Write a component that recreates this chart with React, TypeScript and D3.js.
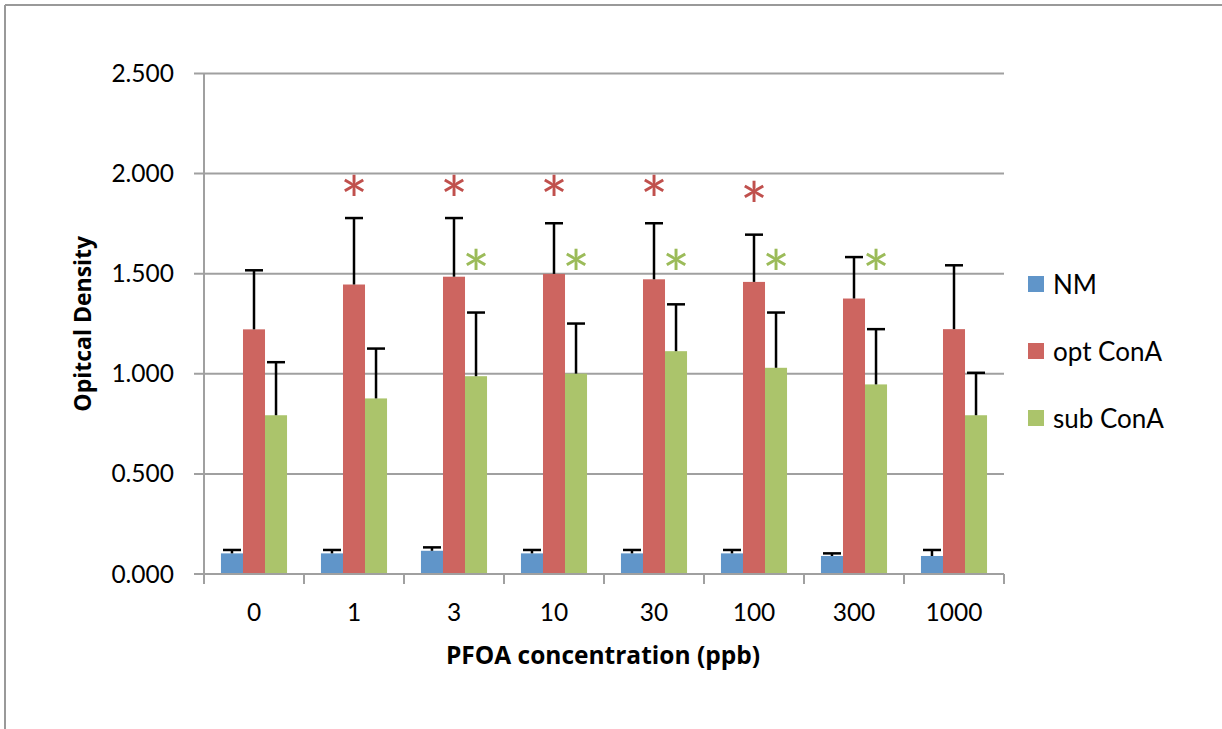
import React from 'react';
import * as d3 from 'd3';

const categories = ['0', '1', '3', '10', '30', '100', '300', '1000'];
const seriesNames = ['NM', 'opt ConA', 'sub ConA'];
const seriesColors = ['#6095C9', '#CD6560', '#ABC46B'];

const nmValues = [0.103, 0.103, 0.116, 0.103, 0.103, 0.103, 0.09, 0.09];
const nmErrors = [0.017, 0.017, 0.017, 0.017, 0.017, 0.017, 0.013, 0.03];
const optValues = [1.222, 1.446, 1.485, 1.499, 1.472, 1.459, 1.376, 1.223];
const optErrors = [0.295, 0.332, 0.293, 0.253, 0.28, 0.236, 0.207, 0.319];
const subValues = [0.793, 0.877, 0.988, 1.001, 1.113, 1.03, 0.947, 0.793];
const subErrors = [0.265, 0.249, 0.318, 0.25, 0.234, 0.276, 0.276, 0.212];

const yTicks = [0, 0.5, 1, 1.5, 2, 2.5];

// significance marks
const optStarCats = ['1', '3', '10', '30', '100'];
const optStarLevels = [1.95, 1.95, 1.95, 1.95, 1.92];
const subStarCats = ['3', '10', '30', '100', '300'];
const subStarLevels = [1.58, 1.58, 1.58, 1.58, 1.58];

const W = 1222;
const H = 729;
const font = 'Lato, "Open Sans", sans-serif';
const titleFont = '"Open Sans", Lato, sans-serif';
const gridColor = '#A0A0A0';

const App = () => {
  const x = d3.scaleBand().domain(categories).range([204, 1004]);
  const xs = d3.scaleBand().domain(seriesNames).range([0, x.bandwidth()]).paddingOuter(0.77);
  const y = d3.scaleLinear().domain([0, 2.5]).range([574, 73.5]);

  const series = [
    { name: seriesNames[0], values: nmValues, errors: nmErrors, color: seriesColors[0] },
    { name: seriesNames[1], values: optValues, errors: optErrors, color: seriesColors[1] },
    { name: seriesNames[2], values: subValues, errors: subErrors, color: seriesColors[2] },
  ];

  const bw = xs.bandwidth();
  const barCenter = (cat, name) => x(cat) + xs(name) + bw / 2;

  return (
    <svg width={W} height={H} style={{ position: 'absolute', left: 0, top: 0, background: '#fff' }}>
      {/* outer frame */}
      <line x1={5} x2={W} y1={5} y2={5} stroke="#999" strokeWidth={2} />
      <line x1={5} x2={5} y1={5} y2={H} stroke="#999" strokeWidth={2} />

      {/* gridlines + y ticks */}
      {yTicks.map(t => (
        <g key={t}>
          <line x1={194} x2={1004} y1={y(t)} y2={y(t)} stroke={gridColor} strokeWidth={2} />
          <text x={174} y={y(t)} dy="0.35em" textAnchor="end" fontFamily={font} fontSize={24.5} fill="#000">
            {d3.format('.3f')(t)}
          </text>
        </g>
      ))}

      {/* y axis */}
      <line x1={204} x2={204} y1={y(2.5)} y2={y(0)} stroke={gridColor} strokeWidth={2} />

      {/* bars */}
      {series.map(s =>
        categories.map((c, i) => (
          <rect
            key={s.name + c}
            x={x(c) + xs(s.name)}
            y={y(s.values[i])}
            width={bw}
            height={y(0) - y(s.values[i])}
            fill={s.color}
          />
        ))
      )}

      {/* error bars (plus only) */}
      {series.map(s =>
        categories.map((c, i) => {
          const cx = barCenter(c, s.name);
          const top = y(s.values[i] + s.errors[i]);
          return (
            <g key={'e' + s.name + c} stroke="#000" strokeWidth={2.5}>
              <line x1={cx} x2={cx} y1={y(s.values[i])} y2={top} />
              <line x1={cx - 9} x2={cx + 9} y1={top} y2={top} />
            </g>
          );
        })
      )}

      {/* x axis */}
      <line x1={194} x2={1004} y1={y(0)} y2={y(0)} stroke={gridColor} strokeWidth={2} />
      {categories.concat(['end']).map((c, i) => {
        const xx = 204 + i * x.step();
        return <line key={'t' + c} x1={xx} x2={xx} y1={y(0)} y2={y(0) + 10} stroke={gridColor} strokeWidth={2} />;
      })}
      {categories.map(c => (
        <text key={'l' + c} x={x(c) + x.bandwidth() / 2} y={621} textAnchor="middle" fontFamily={font} fontSize={24.5} fill="#000">
          {c}
        </text>
      ))}

      {/* asterisks */}
      {optStarCats.map((c, i) => (
        <text key={'so' + c} x={barCenter(c, seriesNames[1])} y={y(optStarLevels[i])} dy="0.62em" textAnchor="middle"
          fontFamily={font} fontSize={66} fill="#C0504D">*</text>
      ))}
      {subStarCats.map((c, i) => (
        <text key={'ss' + c} x={barCenter(c, seriesNames[2])} y={y(subStarLevels[i])} dy="0.62em" textAnchor="middle"
          fontFamily={font} fontSize={66} fill="#9BBB59">*</text>
      ))}

      {/* axis titles */}
      <text x={603} y={664} textAnchor="middle" fontFamily={titleFont} fontSize={24.5} fontWeight="bold" fill="#000">
        PFOA concentration (ppb)
      </text>
      <text transform={`translate(90.5, ${(y(0) + y(2.5)) / 2}) rotate(-90)`} textAnchor="middle" fontFamily={titleFont}
        fontSize={23} fontWeight="bold" fill="#000">
        Opitcal Density
      </text>

      {/* legend */}
      {series.map((s, i) => (
        <g key={'lg' + s.name} transform={`translate(1028, ${276 + i * 67})`}>
          <rect width={16} height={16} fill={s.color} />
          <text x={25} y={18} fontFamily={font} fontSize={26} fill="#000">{s.name}</text>
        </g>
      ))}
    </svg>
  );
};

export default App;
